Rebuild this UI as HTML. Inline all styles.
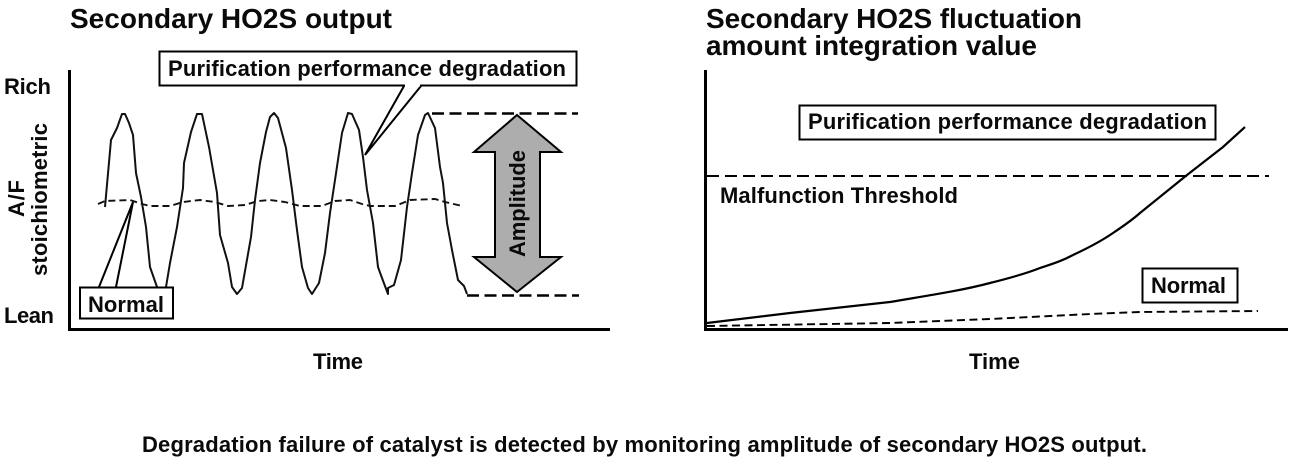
<!DOCTYPE html>
<html lang="en">
<head>
<meta charset="utf-8">
<title>Secondary HO2S output</title>
<style>
html,body{margin:0;padding:0;background:#fff;width:1292px;height:462px;overflow:hidden}
svg{display:block}
text{font-family:"Liberation Sans",Arial,sans-serif;font-weight:bold;fill:#0a0a0a}
</style>
</head>
<body>
<svg width="1292" height="462" viewBox="0 0 1292 462" xmlns="http://www.w3.org/2000/svg">
<rect width="1292" height="462" fill="#fff"/>

<!-- Left chart -->
<text x="70" y="28" font-size="28" textLength="322" lengthAdjust="spacing">Secondary HO2S output</text>
<path d="M69.5 70V329.5H610" fill="none" stroke="#000" stroke-width="3"/>
<text x="4" y="94" font-size="22" textLength="47" lengthAdjust="spacing">Rich</text>
<text x="4" y="323" font-size="22" textLength="50" lengthAdjust="spacing">Lean</text>
<text transform="translate(24,217) rotate(-90)" font-size="22" textLength="37" lengthAdjust="spacing">A/F</text>
<text transform="translate(47,276) rotate(-90)" font-size="22" textLength="153" lengthAdjust="spacing">stoichiometric</text>

<!-- Wave -->
<polyline fill="none" stroke="#111" stroke-width="2" stroke-linejoin="round" points="105,207 111,140 117,128 122,114 125,114 129,123 133,135 136,173 141,197 146,227 150,267 157,287 160,295 166,287 170,263 177,227 183,188 184,163 191,132 197,114 202,114 209,147 217,193 220,235 228,263 232,287 237,294 242,288 251,237 255,200 260,163 266,132 270,117 274,113 278,118 286,148 292,190 297,230 302,267 308,288 312,294 319,283 325,253 330,213 335,180 342,133 348,113 352,114 359,130 363,157 367,190 373,223 378,267 382,278 388,294 388,288 394,285 401,260 407,207 412,173 418,135 425,115 428,113 435,128 440,167 443,183 447,223 452,250 458,280 464,286 467,294"/>
<!-- Normal dashed -->
<polyline fill="none" stroke="#111" stroke-width="1.9" stroke-dasharray="7 4" points="98,204 105,201 130,200 142,204 150,206 170,206 183,202 200,200 215,202 228,206 245,205 258,201 270,200 285,202 300,206 322,206 335,201 350,200 362,204 370,206 395,206 410,200 435,199 445,202 462,206"/>

<!-- Amplitude markers -->
<line x1="432" y1="113.5" x2="578" y2="113.5" stroke="#000" stroke-width="2.4" stroke-dasharray="12 5.5"/>
<line x1="467" y1="295.5" x2="579" y2="295.5" stroke="#000" stroke-width="2.4" stroke-dasharray="12 5.5"/>
<polygon points="517,115 561,152 540,152 540,257 561,257 517,292 474,257 495,257 495,152 474,152" fill="#adadad" stroke="#000" stroke-width="2" stroke-linejoin="miter"/>
<text transform="translate(525,257) rotate(-90)" font-size="22" textLength="107" lengthAdjust="spacing">Amplitude</text>

<!-- Left callouts -->
<path d="M404 86L365 155L421 86" fill="#fff" stroke="#000" stroke-width="2" stroke-linejoin="miter"/>
<rect x="159.5" y="51.5" width="417" height="34" fill="#fff" stroke="#000" stroke-width="2"/>
<line x1="405" y1="85.5" x2="420" y2="85.5" stroke="#fff" stroke-width="2"/>
<text x="168" y="76" font-size="22" textLength="398" lengthAdjust="spacing">Purification performance degradation</text>

<path d="M99 287L133 202L116 287" fill="none" stroke="#000" stroke-width="2"/>
<rect x="80" y="287.5" width="93" height="31" fill="#fff" stroke="#000" stroke-width="2"/>
<text x="88" y="312" font-size="22" textLength="76" lengthAdjust="spacing">Normal</text>

<text x="313" y="369" font-size="22" textLength="50" lengthAdjust="spacing">Time</text>

<!-- Right chart -->
<text x="706" y="28" font-size="28" textLength="376" lengthAdjust="spacing">Secondary HO2S fluctuation</text>
<text x="706" y="55" font-size="28" textLength="331" lengthAdjust="spacing">amount integration value</text>
<path d="M705.5 70V329.5H1288" fill="none" stroke="#000" stroke-width="3"/>
<line x1="707" y1="176" x2="1269" y2="176" stroke="#000" stroke-width="2" stroke-dasharray="12 6"/>
<text x="720" y="203" font-size="22" textLength="238" lengthAdjust="spacing">Malfunction Threshold</text>
<path d="M707 323L790 313L890 302C925 296 960 291 990 283C1010 278 1025 274 1040 268C1052 264 1062 261 1073 255C1088 248 1100 242 1113 233C1122 227 1131 221 1140 213L1187 175L1223 147L1245 127" fill="none" stroke="#000" stroke-width="2.2"/>
<polyline fill="none" stroke="#000" stroke-width="1.9" stroke-dasharray="8 4.5" points="707,326 890,323 990,319 1090,314 1140,312 1258,311"/>

<rect x="799.5" y="105.5" width="416" height="34" fill="#fff" stroke="#000" stroke-width="2"/>
<text x="808" y="129" font-size="22" textLength="399" lengthAdjust="spacing">Purification performance degradation</text>
<rect x="1142.5" y="268.5" width="95" height="34" fill="#fff" stroke="#000" stroke-width="2"/>
<text x="1151" y="293" font-size="22" textLength="75" lengthAdjust="spacing">Normal</text>
<text x="969" y="369" font-size="22" textLength="51" lengthAdjust="spacing">Time</text>

<!-- Footer -->
<text x="142" y="452" font-size="22" textLength="1005" lengthAdjust="spacing">Degradation failure of catalyst is detected by monitoring amplitude of secondary HO2S output.</text>
</svg>
</body>
</html>
